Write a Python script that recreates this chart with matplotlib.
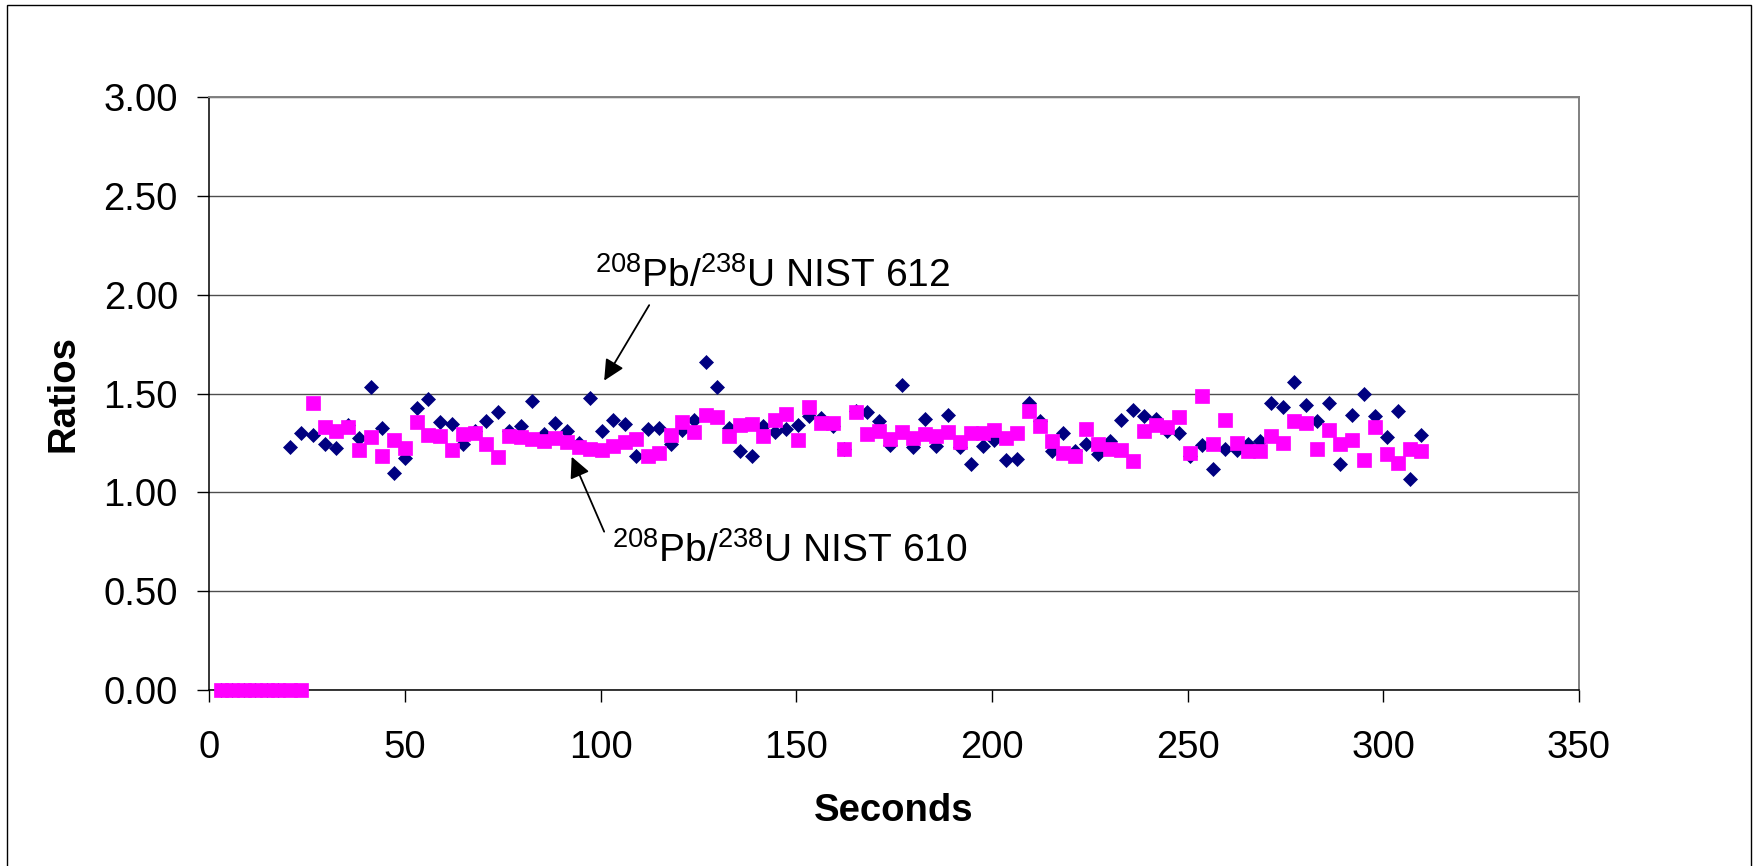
# ===============================
# 1. IMPORT LIBRARIES
# ===============================
import numpy as np
import matplotlib
matplotlib.use("Agg")
import matplotlib.pyplot as plt
from matplotlib.patches import Rectangle

plt.rcParams['font.family'] = ['Liberation Sans', 'DejaVu Sans']
plt.rcParams['mathtext.fontset'] = 'custom'
plt.rcParams['mathtext.rm'] = 'Liberation Sans'
plt.rcParams['mathtext.default'] = 'regular'

# ===============================
# 2. DATA
# ===============================
# one reading every ~2.95 s, starting at ~2.9 s
n_points = 105
t_start = 2.9
t_step = 2.95
seconds = t_start + t_step * np.arange(n_points)

nist612 = [
    0, 0, 0, 0, 0, 0,
    1.229, 1.302, 1.291, 1.244, 1.225, 1.343, 1.276, 1.533, 1.326, 1.096,
    1.172, 1.426, 1.470, 1.354, 1.344, 1.245, 1.310, 1.361, 1.405, 1.312,
    1.335, 1.463, 1.296, 1.349, 1.309, 1.250, 1.477, 1.312, 1.364, 1.344,
    1.183, 1.319, 1.327, 1.242, 1.317, 1.368, 1.661, 1.535, 1.326, 1.209,
    1.182, 1.334, 1.306, 1.322, 1.339, 1.388, 1.376, 1.338, 1.220, 1.410,
    1.406, 1.359, 1.239, 1.542, 1.229, 1.371, 1.234, 1.393, 1.229, 1.142,
    1.236, 1.267, 1.162, 1.167, 1.451, 1.359, 1.209, 1.299, 1.209, 1.245,
    1.196, 1.262, 1.368, 1.415, 1.384, 1.373, 1.309, 1.301, 1.183, 1.239,
    1.117, 1.220, 1.216, 1.242, 1.259, 1.451, 1.431, 1.560, 1.440, 1.363,
    1.451, 1.142, 1.393, 1.498, 1.384, 1.281, 1.410, 1.066, 1.291,
]

nist610 = [
    0, 0, 0, 0, 0, 0, 0, 0,
    1.451, 1.331, 1.311, 1.333, 1.214, 1.282, 1.182, 1.265,
    1.224, 1.354, 1.291, 1.287, 1.212, 1.296, 1.301, 1.244, 1.180, 1.286,
    1.278, 1.271, 1.262, 1.277, 1.255, 1.230, 1.220, 1.214, 1.232, 1.255,
    1.271, 1.183, 1.198, 1.292, 1.354, 1.306, 1.393, 1.379, 1.284, 1.339,
    1.346, 1.284, 1.364, 1.398, 1.267, 1.431, 1.349, 1.351, 1.220, 1.406,
    1.297, 1.309, 1.271, 1.306, 1.276, 1.296, 1.287, 1.306, 1.255, 1.300,
    1.299, 1.316, 1.273, 1.301, 1.410, 1.338, 1.259, 1.198, 1.183, 1.321,
    1.242, 1.221, 1.216, 1.158, 1.309, 1.343, 1.329, 1.379, 1.198, 1.488,
    1.245, 1.364, 1.249, 1.209, 1.210, 1.284, 1.250, 1.363, 1.351, 1.220,
    1.314, 1.242, 1.264, 1.162, 1.333, 1.192, 1.150, 1.220, 1.209,
]

x_ticks = [0, 50, 100, 150, 200, 250, 300, 350]
y_ticks = [0.0, 0.5, 1.0, 1.5, 2.0, 2.5, 3.0]

label_612 = r'$^{208}$Pb/$^{238}$U NIST 612'
label_610 = r'$^{208}$Pb/$^{238}$U NIST 610'

# ===============================
# 3. FIGURE
# ===============================
W, H = 1754, 866
fig = plt.figure(figsize=(W / 100, H / 100), dpi=100)
ax = fig.add_axes([209.3 / W, 1 - 690 / H, (1579 - 209.3) / W, (690 - 97) / H])

# outer chart border (bottom edge runs off the picture)
fig.patches.append(Rectangle((7 / W, -0.05), (1751 - 7) / W, 1 - 5 / H + 0.05,
                             transform=fig.transFigure, fill=False,
                             edgecolor='black', linewidth=1.0))

ax.plot(seconds, nist612, linestyle='none', marker='D', markersize=7.4,
        color='#000080', markeredgewidth=0.5, clip_on=False, zorder=3)
ax.plot(seconds, nist610, linestyle='none', marker='s', markersize=10,
        color='#ff00ff', markeredgewidth=0.5, clip_on=False, zorder=4)

ax.set_xlim(0, 350)
ax.set_ylim(0, 3)
ax.set_xticks(x_ticks)
ax.set_yticks(y_ticks)
ax.set_yticklabels([f"{v:.2f}" for v in y_ticks])
ax.tick_params(axis='both', direction='out', length=8.6, width=1.0,
               labelsize=27.5, color='black')
ax.tick_params(axis='x', pad=20)
ax.tick_params(axis='y', pad=14)

ax.grid(axis='y', color='#4d4d4d', linewidth=1.0)
ax.set_axisbelow(True)
for side in ['left', 'bottom']:
    ax.spines[side].set_color('black')
    ax.spines[side].set_linewidth(1.1)
for side in ['top', 'right']:
    ax.spines[side].set_color('#808080')
    ax.spines[side].set_linewidth(1.4)

fig.text(63 / W, 1 - 393.5 / H, 'Ratios', rotation=90, ha='center',
         va='center', fontsize=27.5, fontweight='bold')
fig.text(894 / W, 1 - 811 / H, 'Seconds', ha='center', va='center',
         fontsize=27.5, fontweight='bold')

# ===============================
# 4. ANNOTATIONS
# ===============================
arrow = dict(arrowstyle='-|>,head_length=0.45,head_width=0.22',
             mutation_scale=28, color='black', lw=1.3,
             shrinkA=0, shrinkB=0)
ax.annotate('', xy=(100.9, 1.565), xytext=(112.4, 1.947), arrowprops=arrow,
            zorder=5)
ax.annotate('', xy=(92.6, 1.180), xytext=(100.9, 0.801), arrowprops=arrow,
            zorder=5)

ax.text(98.6, 2.037, label_612, fontsize=28, ha='left', va='baseline')
ax.text(102.8, 0.649, label_610, fontsize=28, ha='left', va='baseline')

fig.savefig("out.png", dpi=100)
